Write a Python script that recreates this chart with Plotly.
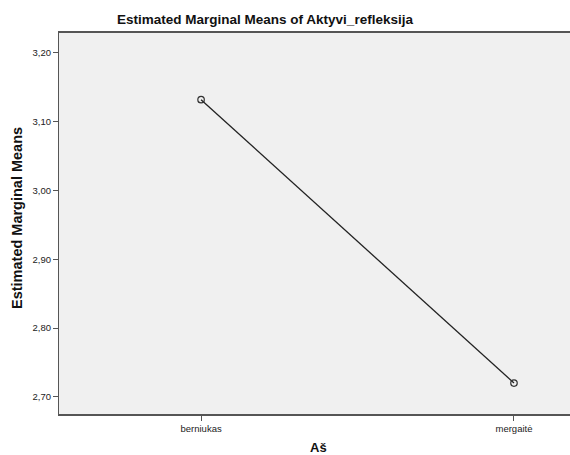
import plotly.graph_objects as go

categories = ["berniukas", "mergaitė"]
means = [3.132, 2.720]
y_ticks = [2.70, 2.80, 2.90, 3.00, 3.10, 3.20]

FONT = "Arial, Liberation Sans, sans-serif"
W, H = 570, 455
L, R, T, B = 59, 0, 33, 41
pw, ph = W - L - R, H - T - B

fig = go.Figure()
fig.add_trace(go.Scatter(
    x=[0, 1], y=means, mode="lines+markers",
    line=dict(color="#222222", width=1.3),
    marker=dict(symbol="circle-open", size=6.5, color="#333333", line=dict(width=1.2)),
    hoverinfo="skip", showlegend=False,
))

fig.update_layout(
    width=W, height=H,
    margin=dict(l=L, r=R, t=T, b=B),
    paper_bgcolor="white", plot_bgcolor="#F0F0F0",
    separators=", ",
    font=dict(family=FONT, color="#222222"),
    title=dict(text="<b>Estimated Marginal Means of Aktyvi_refleksija</b>",
               xref="container", yref="container", x=265 / W, y=1 - 19 / H,
               xanchor="center", yanchor="middle",
               font=dict(size=13.5, family=FONT, color="#111111")),
    xaxis=dict(range=[-0.454, 1.179], tickmode="array", tickvals=[0, 1], ticktext=categories,
               showgrid=False, zeroline=False, showline=True, mirror=True,
               linecolor="#555555", linewidth=1.5,
               ticks="outside", ticklen=5, tickcolor="#555555",
               tickfont=dict(size=9.5, family=FONT, color="#222222")),
    yaxis=dict(range=[2.675, 3.229], tickmode="array", tickvals=y_ticks,
               tickformat=".2f", showgrid=False, zeroline=False,
               showline=True, linecolor="#555555", linewidth=1.2,
               ticks="outside", ticklen=5, tickcolor="#555555",
               tickfont=dict(size=9.5, family=FONT, color="#222222")),
    annotations=[
        dict(text="<b>Aš</b>", xref="paper", yref="paper",
             x=(318 - L) / pw, y=(T + ph - 447) / ph,
             xanchor="center", yanchor="middle", showarrow=False,
             font=dict(size=13, family=FONT, color="#111111")),
        dict(text="<b>Estimated Marginal Means</b>", xref="paper", yref="paper",
             x=(17 - L) / pw, y=(T + ph - 218) / ph, textangle=-90,
             xanchor="center", yanchor="middle", showarrow=False,
             font=dict(size=14.5, family=FONT, color="#111111")),
    ],
)

fig.write_html("out.html", config={"displayModeBar": False},
               post_script="document.body.style.margin='0';document.body.style.overflow='hidden';")
